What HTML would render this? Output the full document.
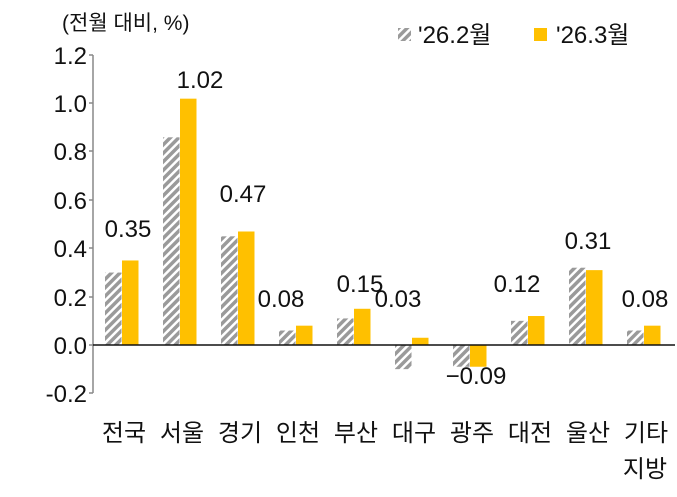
<!DOCTYPE html>
<html><head><meta charset="utf-8"><style>
body{margin:0;background:#fff}
text{font-family:"Liberation Sans","Noto Sans CJK KR",sans-serif;fill:#111}
</style></head><body>
<svg width="677" height="492" xmlns="http://www.w3.org/2000/svg">
<defs><pattern id="h" width="6" height="6" patternUnits="userSpaceOnUse" patternTransform="rotate(45)">
<rect width="6" height="6" fill="#fff"/><rect width="3.5" height="6" fill="#9a9a9a"/></pattern></defs>
<text x="62" y="30" font-size="21">(전월 대비, %)</text>
<rect x="398" y="28" width="13" height="13" fill="url(#h)"/>
<text x="418" y="43" font-size="24">'26.2월</text>
<rect x="534" y="28" width="13" height="13" fill="#FFC000"/>
<text x="556" y="43" font-size="24">'26.3월</text>
<g font-size="24" text-anchor="end">
<text x="87" y="64">1.2</text><text x="87" y="112">1.0</text><text x="87" y="160">0.8</text>
<text x="87" y="209">0.6</text><text x="87" y="257">0.4</text><text x="87" y="306">0.2</text>
<text x="87" y="354">0.0</text><text x="87" y="402">-0.2</text>
</g>
<line x1="93" y1="55" x2="93" y2="393" stroke="#888" stroke-width="1.5"/>
<g stroke="#888" stroke-width="1.5">
<line x1="89" y1="55" x2="93" y2="55"/><line x1="89" y1="103" x2="93" y2="103"/><line x1="89" y1="151" x2="93" y2="151"/>
<line x1="89" y1="200" x2="93" y2="200"/><line x1="89" y1="248" x2="93" y2="248"/><line x1="89" y1="297" x2="93" y2="297"/>
<line x1="89" y1="345" x2="93" y2="345"/><line x1="89" y1="393" x2="93" y2="393"/>
</g>
<g id="bars"></g>
<line x1="93" y1="345" x2="675" y2="345" stroke="#111" stroke-width="1.5"/>
<g font-size="24" text-anchor="middle">
<text x="128" y="237">0.35</text>
<text x="200" y="88">1.02</text>
<text x="243" y="202">0.47</text>
<text x="281" y="307">0.08</text>
<text x="360" y="292">0.15</text>
<text x="398" y="307">0.03</text>
<text x="476" y="384">−0.09</text>
<text x="517" y="292">0.12</text>
<text x="588" y="249">0.31</text>
<text x="645" y="307">0.08</text>
</g>
<g id="cat" font-size="24" text-anchor="middle"></g>
<text x="645" y="477" font-size="24" text-anchor="middle">지방</text>
</svg>
<script>
var g=[0.30,0.86,0.45,0.06,0.11,-0.10,-0.09,0.10,0.32,0.06],
y=[0.35,1.02,0.47,0.08,0.15,0.03,-0.09,0.12,0.31,0.08],
c=["전국","서울","경기","인천","부산","대구","광주","대전","울산","기타"],
s=241.5,z=345,ns="http://www.w3.org/2000/svg",B=document.getElementById("bars"),C=document.getElementById("cat");
function r(x,v,f){var e=document.createElementNS(ns,"rect");var h=v*s;e.setAttribute("x",x);e.setAttribute("width",16.5);e.setAttribute("y",h>=0?z-h:z);e.setAttribute("height",Math.abs(h));e.setAttribute("fill",f);B.appendChild(e);}
function t(p,x,yy,s2){var e=document.createElementNS(ns,"text");e.setAttribute("x",x);e.setAttribute("y",yy);e.textContent=s2;p.appendChild(e);}
for(var i=0;i<10;i++){var gx=105+58*i;r(gx,g[i],"url(#h)");r(gx+17,y[i],"#FFC000");
t(C,gx+19,441,c[i]);}
</script>
</body></html>
